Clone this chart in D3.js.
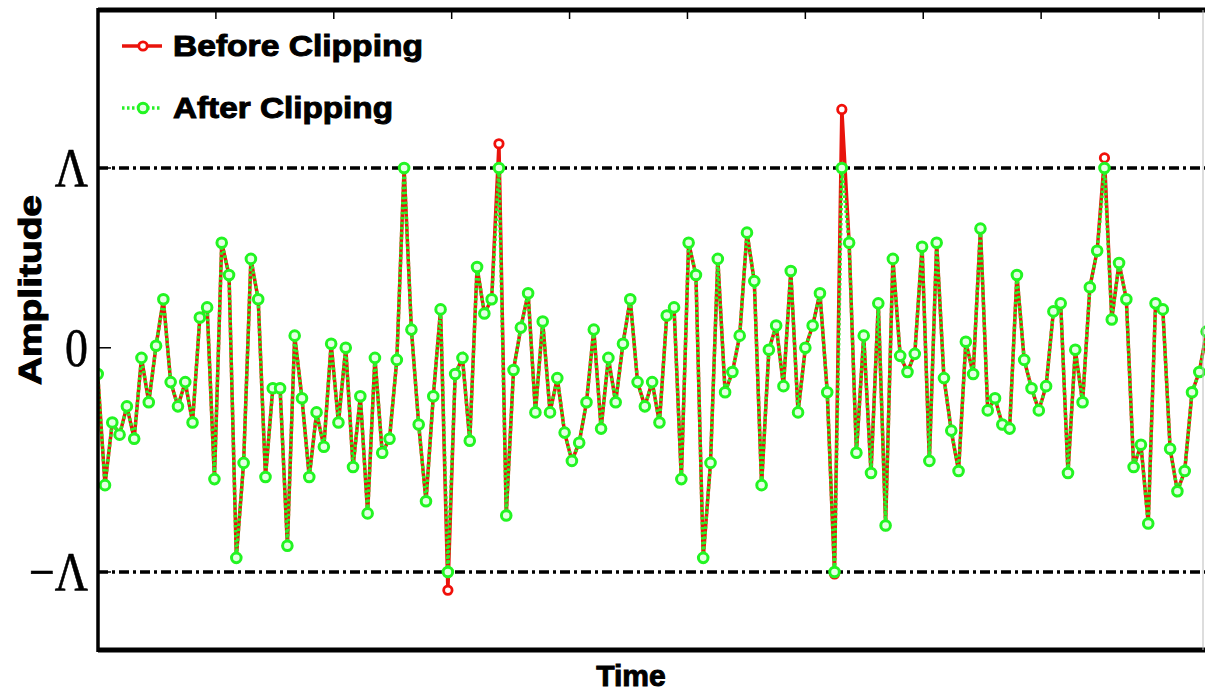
<!DOCTYPE html>
<html>
  <head>
    <style>
      body { margin: 0; background: #fff; }
      .legend text, .label { font-family: "Liberation Sans", Arial, sans-serif; font-weight: bold; stroke: #000; stroke-width: 1px; }
      .ytick { font-family: "Liberation Serif", "Times New Roman", serif; stroke: #000; stroke-width: 0.6px; }
    </style>
  </head>
  <body>
    <script src="https://d3js.org/d3.v7.min.js"></script>
    <script>
    var width = 1205, height = 693;

    // sample index of each point (one hidden behind the left axis, one past the right edge)
    var samples = d3.range(-1, 152);

    // amplitude before clipping (clip level = 1)
    var beforeClipping = [-0.02,
      -0.57,-0.26,-0.32,-0.18,-0.34, 0.06,-0.16, 0.12, 0.35,-0.06,
      -0.18,-0.06,-0.26, 0.26, 0.31,-0.54, 0.63, 0.47,-0.93,-0.46,
       0.55, 0.35,-0.53,-0.09,-0.09,-0.87, 0.17,-0.14,-0.53,-0.21,
      -0.38, 0.13,-0.26, 0.11,-0.48,-0.13,-0.71, 0.06,-0.41,-0.34,
       0.05, 1.00, 0.20,-0.27,-0.65,-0.13, 0.30,-1.09,-0.02, 0.06,
      -0.35, 0.51, 0.28, 0.35, 1.12,-0.72, 0.00, 0.21, 0.38,-0.21,
       0.24,-0.21,-0.04,-0.31,-0.45,-0.36,-0.16, 0.20,-0.29, 0.06,
      -0.16, 0.13, 0.35,-0.06,-0.18,-0.06,-0.26, 0.27, 0.31,-0.54,
       0.63, 0.47,-0.93,-0.46, 0.55,-0.11,-0.01, 0.17, 0.68, 0.44,
      -0.57, 0.10, 0.22,-0.08, 0.49,-0.21, 0.11, 0.22, 0.38,-0.11,
      -1.01, 1.29, 0.63,-0.41, 0.17,-0.51, 0.33,-0.77, 0.55, 0.07,
      -0.01, 0.08, 0.61,-0.45, 0.63,-0.04,-0.30,-0.50, 0.14,-0.02,
       0.70,-0.20,-0.14,-0.27,-0.29, 0.47, 0.05,-0.09,-0.20,-0.08,
       0.29, 0.33,-0.51, 0.10,-0.16, 0.41, 0.59, 1.05, 0.25, 0.53,
       0.35,-0.48,-0.37,-0.76, 0.33, 0.30,-0.39,-0.60,-0.50,-0.11,
      -0.01, 0.19];

    // amplitude after clipping
    var afterClipping = [-0.02,
      -0.57,-0.26,-0.32,-0.18,-0.34, 0.06,-0.16, 0.12, 0.35,-0.06,
      -0.18,-0.06,-0.26, 0.26, 0.31,-0.54, 0.63, 0.47,-0.93,-0.46,
       0.55, 0.35,-0.53,-0.09,-0.09,-0.87, 0.17,-0.14,-0.53,-0.21,
      -0.38, 0.13,-0.26, 0.11,-0.48,-0.13,-0.71, 0.06,-0.41,-0.34,
       0.05, 1.00, 0.20,-0.27,-0.65,-0.13, 0.30,-1.00,-0.02, 0.06,
      -0.35, 0.51, 0.28, 0.35, 1.00,-0.72, 0.00, 0.21, 0.38,-0.21,
       0.24,-0.21,-0.04,-0.31,-0.45,-0.36,-0.16, 0.20,-0.29, 0.06,
      -0.16, 0.13, 0.35,-0.06,-0.18,-0.06,-0.26, 0.27, 0.31,-0.54,
       0.63, 0.47,-0.93,-0.46, 0.55,-0.11,-0.01, 0.17, 0.68, 0.44,
      -0.57, 0.10, 0.22,-0.08, 0.49,-0.21, 0.11, 0.22, 0.38,-0.11,
      -1.00, 1.00, 0.63,-0.41, 0.17,-0.51, 0.33,-0.77, 0.55, 0.07,
      -0.01, 0.08, 0.61,-0.45, 0.63,-0.04,-0.30,-0.50, 0.14,-0.02,
       0.70,-0.20,-0.14,-0.27,-0.29, 0.47, 0.05,-0.09,-0.20,-0.08,
       0.29, 0.33,-0.51, 0.10,-0.16, 0.41, 0.59, 1.00, 0.25, 0.53,
       0.35,-0.48,-0.37,-0.76, 0.33, 0.30,-0.39,-0.60,-0.50,-0.11,
      -0.01, 0.19];

    var clipLevels = [1, -1];
    var yTickLabels = ["\u039B", "0", "\u2212\u039B"];
    var yTickValues = [1, 0.11, -1];
    var topTickValues = [1, 2, 3, 4, 5, 6, 7, 8, 9];
    var seriesNames = ["Before Clipping", "After Clipping"];

    // plot box (note: "top" is reserved on window, so use plot* names)
    var plotLeft = 98, plotRight = 1205, plotTop = 10, plotBottom = 650;

    var redLine = "#e8140c", redMark = "#f0100a", greenLine = "#2af02a", greenMark = "#22f522";

    var svg = d3.select("body").append("svg")
        .attr("width", width)
        .attr("height", height);

    svg.append("rect").attr("width", width).attr("height", height).attr("fill", "#fff");

    var x = d3.scaleLinear().domain([0, 150]).range([105, 1199.3]);
    var y = d3.scaleLinear().domain([-1, 1]).range([572, 168]);
    var xTop = d3.scaleLinear().domain([0, 9.39]).range([plotLeft, plotRight]);

    svg.append("clipPath").attr("id", "plotclip")
      .append("rect")
        .attr("x", plotLeft).attr("y", plotTop)
        .attr("width", plotRight - plotLeft).attr("height", plotBottom - plotTop);

    // threshold lines
    svg.append("g").selectAll("line")
        .data(clipLevels)
        .enter().append("line")
        .attr("x1", plotLeft).attr("x2", plotRight)
        .attr("y1", function(d){ return y(d); })
        .attr("y2", function(d){ return y(d); })
        .attr("stroke", "#000")
        .attr("stroke-width", 3.5)
        .attr("stroke-dasharray", "10,4,3,4");

    var before = samples.map(function(s, i){ return { t: s, v: beforeClipping[i] }; });
    var after = samples.map(function(s, i){ return { t: s, v: afterClipping[i] }; });

    var line = d3.line()
        .x(function(d){ return x(d.t); })
        .y(function(d){ return y(d.v); });

    var plot = svg.append("g").attr("clip-path", "url(#plotclip)");

    plot.append("path")
        .datum(before)
        .attr("d", line)
        .attr("fill", "none")
        .attr("stroke", redLine)
        .attr("stroke-width", 3.5);

    plot.append("g").selectAll("circle")
        .data(before)
        .enter().append("circle")
        .attr("cx", function(d){ return x(d.t); })
        .attr("cy", function(d){ return y(d.v); })
        .attr("r", 4.2)
        .attr("fill", "#fff")
        .attr("stroke", redMark)
        .attr("stroke-width", 2.8);

    plot.append("path")
        .datum(after)
        .attr("d", line)
        .attr("fill", "none")
        .attr("stroke", greenLine)
        .attr("stroke-width", 3.5)
        .attr("stroke-dasharray", "2.5,2.5");

    plot.append("g").selectAll("circle")
        .data(after)
        .enter().append("circle")
        .attr("cx", function(d){ return x(d.t); })
        .attr("cy", function(d){ return y(d.v); })
        .attr("r", 4.8)
        .attr("fill", "#e4ffe4")
        .attr("stroke", greenMark)
        .attr("stroke-width", 3);

    // frame
    var frame = svg.append("g").attr("stroke", "#000");
    frame.append("line").attr("x1", plotLeft).attr("x2", plotRight)
        .attr("y1", plotTop).attr("y2", plotTop).attr("stroke-width", 5);
    frame.append("line").attr("x1", plotLeft).attr("x2", plotRight)
        .attr("y1", plotBottom).attr("y2", plotBottom).attr("stroke-width", 5);
    frame.append("line").attr("x1", plotLeft).attr("x2", plotLeft)
        .attr("y1", plotTop - 2).attr("y2", plotBottom + 2).attr("stroke-width", 3.5);
    frame.append("line").attr("x1", plotRight - 2).attr("x2", plotRight - 2)
        .attr("y1", plotTop).attr("y2", plotBottom)
        .attr("stroke", "#bbb").attr("stroke-width", 1);

    // small ticks hanging from the top border
    frame.selectAll(".ttick")
        .data(topTickValues)
        .enter().append("line")
        .attr("x1", function(d){ return xTop(d); })
        .attr("x2", function(d){ return xTop(d); })
        .attr("y1", plotTop).attr("y2", plotTop + 9)
        .attr("stroke-width", 1.5);

    // y ticks and labels
    frame.selectAll(".ytickmark")
        .data(yTickValues)
        .enter().append("line")
        .attr("x1", plotLeft).attr("x2", plotLeft + 13)
        .attr("y1", function(d){ return y(d); })
        .attr("y2", function(d){ return y(d); })
        .attr("stroke-width", 1.5);

    svg.append("g").selectAll("text")
        .data(yTickValues)
        .enter().append("text")
        .attr("class", "ytick")
        .attr("text-anchor", "end")
        .attr("transform", function(d){ return "translate(88," + (y(d) + 18) + ") scale(0.85,1)"; })
        .attr("font-size", 54)
        .text(function(d, i){ return yTickLabels[i]; });

    // axis titles
    svg.append("text")
        .attr("class", "label")
        .attr("text-anchor", "middle")
        .attr("transform", "translate(41,290) rotate(-90)")
        .attr("font-size", 31)
        .attr("textLength", 190)
        .attr("lengthAdjust", "spacingAndGlyphs")
        .text("Amplitude");

    svg.append("text")
        .attr("class", "label")
        .attr("text-anchor", "middle")
        .attr("x", 631)
        .attr("y", 686)
        .attr("font-size", 30)
        .text("Time");

    // legend
    var legend = svg.append("g").attr("class", "legend");
    var legendY = [46, 108];

    legend.append("line")
        .attr("x1", 122).attr("x2", 162).attr("y1", legendY[0]).attr("y2", legendY[0])
        .attr("stroke", redLine).attr("stroke-width", 3.5);
    legend.append("circle")
        .attr("cx", 143).attr("cy", legendY[0]).attr("r", 4.2)
        .attr("fill", "#fff").attr("stroke", redMark).attr("stroke-width", 2.8);

    legend.append("line")
        .attr("x1", 122).attr("x2", 162).attr("y1", legendY[1]).attr("y2", legendY[1])
        .attr("stroke", greenLine).attr("stroke-width", 3.5).attr("stroke-dasharray", "2.5,2.5");
    legend.append("circle")
        .attr("cx", 143).attr("cy", legendY[1]).attr("r", 4.8)
        .attr("fill", "#e4ffe4").attr("stroke", greenMark).attr("stroke-width", 3);

    legend.selectAll("text")
        .data(seriesNames)
        .enter().append("text")
        .attr("x", 173)
        .attr("y", function(d, i){ return legendY[i] + 10; })
        .attr("font-size", 30)
        .attr("textLength", function(d, i){ return i === 0 ? 250 : 220; })
        .attr("lengthAdjust", "spacingAndGlyphs")
        .text(function(d){ return d; });
    </script>
  </body>
</html>
